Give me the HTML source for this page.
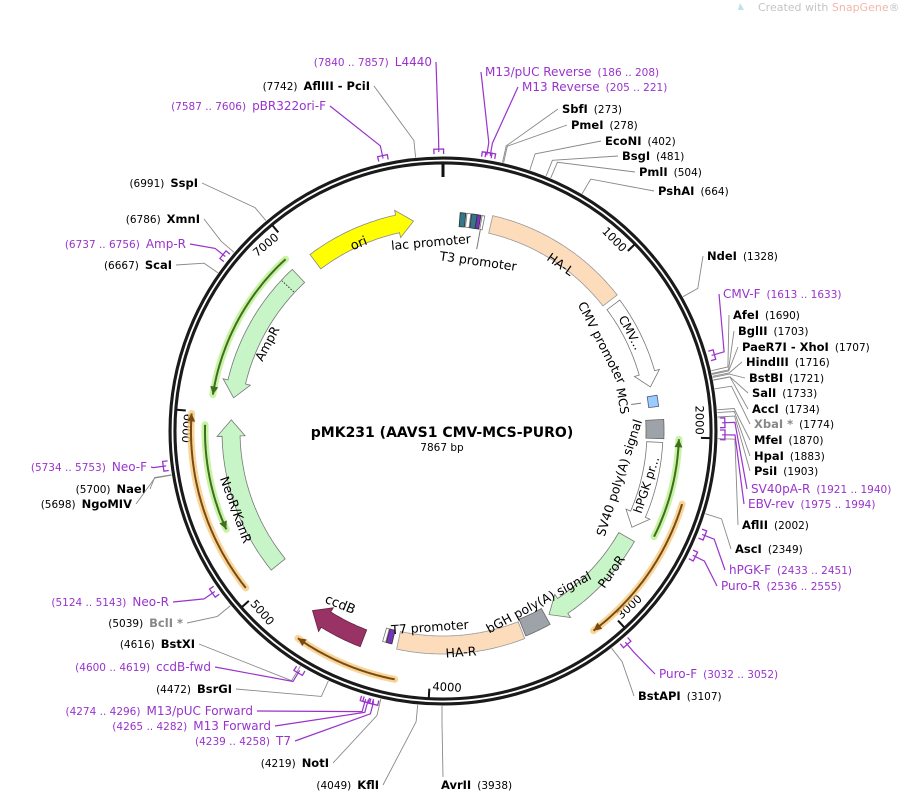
<!DOCTYPE html>
<html><head><meta charset="utf-8">
<style>
html,body{margin:0;padding:0;background:#fff;}
svg{display:block;font-family:"DejaVu Sans","Liberation Sans",sans-serif;}
</style></head>
<body>
<svg id="s" width="909" height="794" viewBox="0 0 909 794" xmlns="http://www.w3.org/2000/svg">
<text x="758" y="11" font-size="11" fill="#c4c4c4">Created with <tspan fill="#f2b8a8">SnapGene</tspan>®</text>
<path d="M740 3 l4 7 l-6 0 z" fill="#bfe0ee"/>
<text x="442" y="437" font-size="14" font-weight="bold" text-anchor="middle" fill="#000">pMK231 (AAVS1 CMV-MCS-PURO)</text>
<text x="442" y="451" font-size="10.5" text-anchor="middle" fill="#000">7867 bp</text>
</svg>
<script>
var S=document.getElementById('s'),NS='http://www.w3.org/2000/svg',cx=443,cy=431,T=7867;
function el(n,a,t){var e=document.createElementNS(NS,n);for(var k in a)e.setAttribute(k,a[k]);if(t!=null)e.textContent=t;S.appendChild(e);return e;}
function P(a,r){var q=a*Math.PI/180;return [cx+r*Math.sin(q),cy-r*Math.cos(q)];}
function ang(bp){return bp/T*360;}
function arcPts(a1,a2,r){var pts=[],n=Math.max(2,Math.ceil(Math.abs(a2-a1)*2));for(var i=0;i<=n;i++){pts.push(P(a1+(a2-a1)*i/n,r));}return pts;}
function ps(pts){return pts.map(function(p){return p[0].toFixed(1)+','+p[1].toFixed(1)}).join(' ');}
function band(a1,a2,r,w,fill,head,stroke){
  var h=w/2,hd=(w*0.9)/r*180/Math.PI,pts=[];
  if(head==1){var b=a2-hd;pts=arcPts(a1,b,r+h).concat([P(b,r+h+5),P(a2,r),P(b,r-h-5)]).concat(arcPts(b,a1,r-h));}
  else if(head==-1){var b=a1+hd;pts=[P(a1,r),P(b,r+h+5)].concat(arcPts(b,a2,r+h)).concat(arcPts(a2,b,r-h)).concat([P(b,r-h-5)]);}
  else{pts=arcPts(a1,a2,r+h).concat(arcPts(a2,a1,r-h));}
  el('polygon',{points:ps(pts),fill:fill,stroke:stroke||'#777','stroke-width':0.8});
}
function primer(a1,a2,r,col,glow,head){
  var pts=arcPts(a1,a2,r);
  el('polyline',{points:ps(pts),fill:'none',stroke:glow,'stroke-width':7,'stroke-linecap':'round',opacity:0.75});
  el('polyline',{points:ps(pts),fill:'none',stroke:col,'stroke-width':2});
  var t=head==1?a2:a1,d=head==1?-1:1,hd=8/r*180/Math.PI;
  el('polygon',{points:ps([P(t,r),P(t+d*hd,r+4),P(t+d*hd,r-4)]),fill:col});
}
el('circle',{cx:cx,cy:cy,r:270.5,fill:'none',stroke:'#1a1a1a','stroke-width':8});
el('circle',{cx:cx,cy:cy,r:270.5,fill:'none',stroke:'#fff','stroke-width':1.8});
var p1=P(0,267),p2=P(0,254);el('line',{x1:p1[0],y1:p1[1],x2:p2[0],y2:p2[1],stroke:'#111','stroke-width':3});
for(var k=1;k<=7;k++){var a=ang(k*1000),q1=P(a,267),q2=P(a,258);el('line',{x1:q1[0],y1:q1[1],x2:q2[0],y2:q2[1],stroke:'#111','stroke-width':2});
  var tp=P(a,256),rot,anc;if(a<90||a>300){rot=a;anc='end';}else if(a<180&&a>90){rot=a-180;anc='start';}else{rot=a-180;anc='start';}
  if(k==2){rot=90;anc='end';}
  var e=el('text',{x:tp[0],y:tp[1],'font-size':11.5,'text-anchor':anc,'dominant-baseline':'middle',transform:'rotate('+rot+' '+tp[0]+' '+tp[1]+')',fill:'#000'},String(k*1000));
  if(k==2||k==1||k==7){e.setAttribute('dx',-3);}else e.setAttribute('dx',3);
}
band(323,352,212,18,'#ffff00',1,'#888');
band(13,52,212,18,'#fddcbc',0,'#999');
band(53.5,78,212,16,'#ffffff',1,'#777');
band(80.5,83.5,212,10,'#99ccff',0,'#557');
band(87,92,212,18,'#9ea3aa',0,'#666');
band(93,117,212,16,'#ffffff',1,'#777');
band(120,150,212,18,'#c8f5c8',1,'#777');
band(151,158,212,18,'#9ea3aa',0,'#666');
band(158.5,192,214,18,'#fddcbc',0,'#999');
band(201,216,222,18,'#993366',1,'#662244');
band(231,273,212,18,'#c8f5c8',1,'#777');
band(279,317,212,18,'#c8f5c8',-1,'#777');
band(4.5,6,212,14,'#337788',0,'#333');band(6.3,7.3,212,14,'#ffffff',0,'#777');
band(7.5,9,212,14,'#337788',0,'#333');band(9,10,212,14,'#7733bb',0,'#333');band(10.3,11,212,14,'#fff',0,'#777');
band(193.5,195,212,14,'#7733bb',0,'#333');band(195.2,196,212,14,'#fff',0,'#777');
var d1=P(313,204),d2=P(313,220);el('line',{x1:d1[0],y1:d1[1],x2:d2[0],y2:d2[1],stroke:'#333','stroke-dasharray':'1.5,1.5'});
var m1=P(82,200),m2=P(82,190);el('line',{x1:m1[0],y1:m1[1],x2:m2[0],y2:m2[1],stroke:'#777'});
var t1=P(10.5,205),t2=P(10.5,185);el('line',{x1:t1[0],y1:t1[1],x2:t2[0],y2:t2[1],stroke:'#777'});
var G='#3f6e1e',GG='#b6ef86',O='#7a4a12',OG='#f6c878';
primer(92,116.6,236,G,GG,-1);
primer(107,143,250,O,OG,1);
primer(279,317.5,233,G,GG,-1);
primer(245.6,271.5,238,G,GG,-1);
primer(231.5,274,252,O,OG,1);
primer(191,215,253,O,OG,1);
function lab(x,y,r,t,fs,c){el('text',{x:x,y:y,'font-size':fs||12.5,'text-anchor':'middle','dominant-baseline':'middle',fill:c||'#000',transform:'rotate('+r+' '+x+' '+y+')'},t);}
lab(359,244,-22,'ori',13);
lab(431,243,-5,'lac promoter');
lab(478,262,8,'T3 promoter');
lab(560,265,35,'HA-L');
lab(630,333,62,'CMV...',12);
lab(601,343,63,'CMV promoter',12.5);
lab(622,401,80,'MCS',12);
lab(620,478,-72,'SV40 poly(A) signal');
lab(647,485,-72,'hPGK pr...',12);
lab(612,572,-55,'PuroR',12.5);
lab(539,603,-28,'bGH poly(A) signal');
lab(461,653,-4,'HA-R');
lab(430,628,-4,'T7 promoter');
lab(340,605,22,'ccdB',13);
lab(235,510,70,'NeoR/KanR',12.5);
lab(268,344,-62,'AmpR',12.5);
var PU='#9933cc';
var L=[
['(7840 .. 7857)','L4440',432,66,'p',7848],['(7742)','AflIII - PciI',370,90,'b',7742],['(7587 .. 7606)','pBR322ori-F',326,110,'p',7596],
['(6991)','SspI',198,187,'b',6991],['(6786)','XmnI',200,223,'b',6786],['(6737 .. 6756)','Amp-R',186,248,'p',6746],['(6667)','ScaI',172,269,'b',6667],
['(5734 .. 5753)','Neo-F',147,471,'p',5743],['(5700)','NaeI',146,493,'b',5700],['(5698)','NgoMIV',132,508,'b',5698],
['(5124 .. 5143)','Neo-R',169,606,'p',5133],['(5039)','BclI *',183,627,'g',5039],['(4616)','BstXI',195,648,'b',4616],
['(4600 .. 4619)','ccdB-fwd',211,671,'p',4609],['(4472)','BsrGI',232,693,'b',4472],['(4274 .. 4296)','M13/pUC Forward',253,715,'p',4285],
['(4265 .. 4282)','M13 Forward',271,730,'p',4273],['(4239 .. 4258)','T7',291,745,'p',4248],['(4219)','NotI',329,767,'b',4219],['(4049)','KflI',379,789,'b',4049]];
var R=[
['AvrII','(3938)',441,789,'b',3938],['BstAPI','(3107)',638,700,'b',3107],['Puro-F','(3032 .. 3052)',659,678,'p',3042],
['Puro-R','(2536 .. 2555)',721,590,'p',2545],['hPGK-F','(2433 .. 2451)',729,574,'p',2442],['AscI','(2349)',735,553,'b',2349],
['AflII','(2002)',742,529,'b',2002],['EBV-rev','(1975 .. 1994)',748,508,'p',1984],['SV40pA-R','(1921 .. 1940)',751,493,'p',1930],
['PsiI','(1903)',754,475,'b',1903],['HpaI','(1883)',754,460,'b',1883],['MfeI','(1870)',754,444,'b',1870],['XbaI *','(1774)',754,428,'g',1774],
['AccI','(1734)',752,413,'b',1734],['SalI','(1733)',752,397,'b',1733],['BstBI','(1721)',749,382,'b',1721],['HindIII','(1716)',746,366,'b',1716],
['PaeR7I - XhoI','(1707)',742,351,'b',1707],['BglII','(1703)',738,335,'b',1703],['AfeI','(1690)',733,319,'b',1690],
['CMV-F','(1613 .. 1633)',723,298,'p',1623],['NdeI','(1328)',707,260,'b',1328],['PshAI','(664)',658,195,'b',664],
['PmlI','(504)',639,176,'b',504],['BsgI','(481)',622,160,'b',481],['EcoNI','(402)',605,145,'b',402],['PmeI','(278)',571,129,'b',278],
['SbfI','(273)',562,113,'b',273],['M13 Reverse','(205 .. 221)',522,91,'p',213],['M13/pUC Reverse','(186 .. 208)',485,76,'p',197]];
function leader(ax,ay,bp,t){
  var a=ang(bp),k=P(a,292),e=P(a,t=='p'?279:275);
  var c=t=='p'?PU:'#888';
  el('polyline',{points:ps([[ax,ay],k,e]),fill:'none',stroke:c,'stroke-width':t=='p'?1.2:0.9});
  if(t=='p'){var b1=P(a-1,282),b2=P(a+1,282),c1=P(a-1,277),c2=P(a+1,277);el('polyline',{points:ps([c1,b1,b2,c2]),fill:'none',stroke:PU,'stroke-width':1.3});}
}
L.forEach(function(d){
  var t=el('text',{x:d[2],y:d[3],'text-anchor':'end','font-size':10.5,fill:d[4]=='p'?PU:'#000'});
  var s1=document.createElementNS(NS,'tspan');s1.textContent=d[0];t.appendChild(s1);
  var s2=document.createElementNS(NS,'tspan');s2.textContent=d[1];s2.setAttribute('dx',6);
  if(d[4]=='p'){s2.setAttribute('font-size',12);}else{s2.setAttribute('font-weight','bold');s2.setAttribute('font-size',11.5);if(d[4]=='g')s2.setAttribute('fill','#888');}
  t.appendChild(s2);
  leader(d[2]+4,d[3]-4,d[5],d[4]);
});
R.forEach(function(d){
  var t=el('text',{x:d[2],y:d[3],'font-size':10.5,fill:d[4]=='p'?PU:'#000'});
  var s2=document.createElementNS(NS,'tspan');s2.textContent=d[0];
  if(d[4]=='p'){s2.setAttribute('font-size',12);}else{s2.setAttribute('font-weight','bold');s2.setAttribute('font-size',11.5);if(d[4]=='g')s2.setAttribute('fill','#888');}
  t.appendChild(s2);
  var s1=document.createElementNS(NS,'tspan');s1.textContent=d[1];s1.setAttribute('dx',6);t.appendChild(s1);
  var ax=d[2]-4,ay=d[3]-4;if(d[0]=='AvrII'){ax=443;ay=777;}
  leader(ax,ay,d[5],d[4]);
});
</script>
</body></html>
